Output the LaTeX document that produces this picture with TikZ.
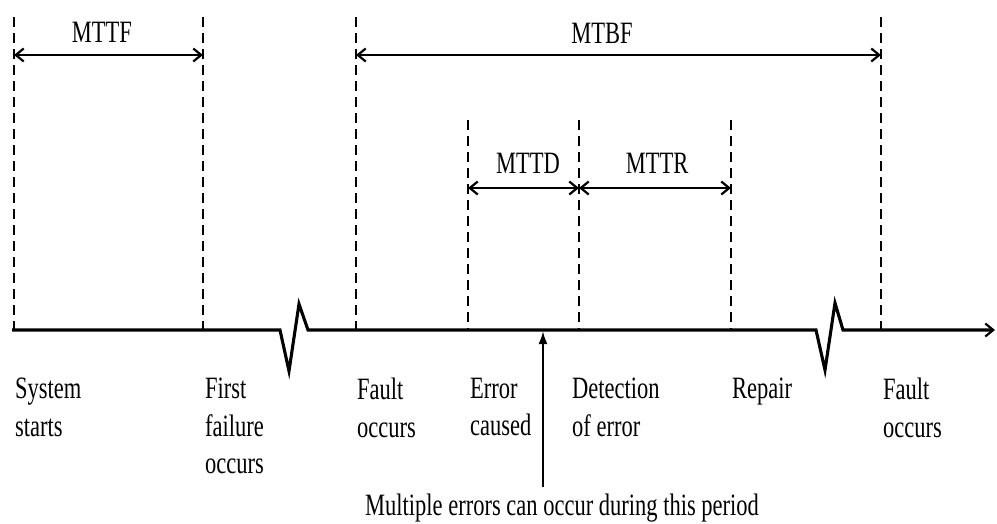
\documentclass[tikz,border=0pt]{standalone}
\usepackage{fontspec}
\setmainfont{Liberation Serif}
\usetikzlibrary{arrows.meta}
\begin{document}
\begin{tikzpicture}[x=1pt,y=1pt,
  txt/.style={font=\fontsize{22.5}{27}\selectfont, inner sep=0pt, yscale=1.38, transform shape},
  event/.style={txt, anchor=north west, align=left},
  period/.style={txt, anchor=base},
  guide/.style={line width=2pt, dash pattern=on 10pt off 6pt},
  barb/.tip={Straight Barb[length=8pt,width=13pt,line width=2.2pt]},
  span/.style={line width=2.9pt, barb-barb},
  axis/.style={line width=3.1pt, line join=miter, -{Straight Barb[length=8pt,width=13pt,line width=2.2pt]}},
  pointer/.style={line width=2.2pt, -{Latex[length=13pt,width=9pt]}}
]
\useasboundingbox (0,0) rectangle (997,-523);

% event instants on the time axis
\coordinate (t0) at (14,-330);
\coordinate (t1) at (203,-330);
\coordinate (t2) at (356,-330);
\coordinate (t3) at (468,-330);
\coordinate (t4) at (579,-330);
\coordinate (t5) at (731,-330);
\coordinate (t6) at (881,-330);
\coordinate (tp) at (543,-331);
\coordinate (axisL) at (12,-330);
\coordinate (axisR) at (995,-330);

% tops of the guide lines
\coordinate (g0) at (14,-17);
\coordinate (g1) at (203,-17);
\coordinate (g2) at (356,-17);
\coordinate (g6) at (881,-17);
\coordinate (g3) at (468,-120);
\coordinate (g4) at (579,-120);
\coordinate (g5) at (731,-120);

% vertical guides
\foreach \i in {0,...,6} \draw[guide] (g\i) -- (t\i);

% time axis with two breaks
\draw[axis] (axisL) -- (280,-330) -- (289,-371) -- (299,-304) -- (308,-330)
  -- (816,-330) -- (825,-370) -- (835,-303) -- (843,-330) -- (axisR);

% interval spans
\coordinate (a0) at (14,-55);  \coordinate (a1) at (203,-55);
\coordinate (a2) at (356,-55); \coordinate (a6) at (881,-55);
\coordinate (a3) at (468,-188); \coordinate (a4) at (579,-188); \coordinate (a5) at (731,-188);
\draw[span] (a0) -- (a1);
\draw[span] (a2) -- (a6);
\draw[span] (a3) -- (a4);
\draw[span] (a4) -- (a5);

\node[period] (mttf) at (102,-42) {MTTF};
\node[period] (mtbf) at (602,-43) {MTBF};
\node[period] (mttd) at (528,-173) {MTTD};
\node[period] (mttr) at (657,-173) {MTTR};

% event labels
\node[event] (e0) at (15,-378) {System\\starts};
\node[event] (e1) at (205,-378) {First\\failure\\occurs};
\node[event] (e2) at (357,-378) {Fault\\occurs};
\node[event] (e3) at (470,-378) {Error\\caused};
\node[event] (e4) at (572,-378) {Detection\\of error};
\node[event] (e5) at (732,-378) {Repair};
\node[event] (e6) at (883,-378) {Fault\\occurs};

\node[txt, anchor=base west] (note) at (365,-515) {Multiple errors can occur during this period};
\draw[pointer] ([yshift=6pt]note.north -| tp) -- (tp);
\end{tikzpicture}
\end{document}
